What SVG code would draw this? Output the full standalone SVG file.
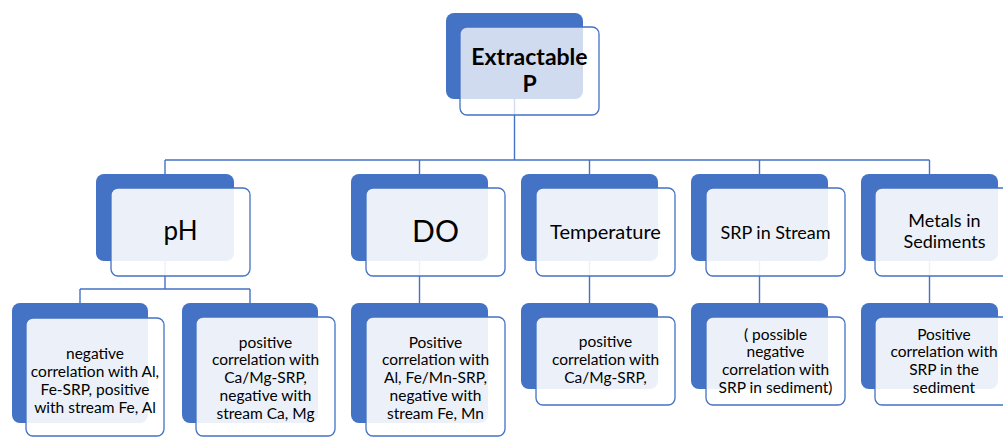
<svg xmlns="http://www.w3.org/2000/svg" width="1003" height="437" viewBox="0 0 1003 437">
<style>
.back{fill:#4472C4}
.front{fill:#ffffff;fill-opacity:0.9;stroke:#4472C4;stroke-width:1.3}
.front.top{fill-opacity:0.75}
.conn{fill:none;stroke:#4472C4;stroke-width:1.4}
text{font-family:Lato,"Liberation Sans",sans-serif;fill:#000;text-anchor:middle}
.t{font-size:15.5px}
.b{font-weight:bold;font-size:23px}
</style>
<rect width="1003" height="437" fill="#ffffff"/>
<g id="connectors">
<path class="conn" d="M514.5,99V160M165,160H929.5M165,160V174M419.5,160V174M589.5,160V174M759.5,160V174M929.5,160V174"/>
<path class="conn" d="M165,261V289M80,289H250M80,289V303M250,289V303"/>
<path class="conn" d="M419.5,261V303M589.5,261V303M759.5,261V303M929.5,261V303"/>
</g>
<g id="extractable-p">
<rect class="back" x="446" y="13" width="137" height="86" rx="8"/>
<rect class="front top" x="460" y="27" width="139" height="88" rx="7"/>
<text class="b" x="529.5" y="65">Extractable</text>
<text class="b" x="529.5" y="92">P</text>
</g>
<g id="ph">
<rect class="back" x="96" y="174" width="138" height="87" rx="8"/>
<rect class="front" x="111" y="188" width="139" height="88" rx="7"/>
<text x="180.5" y="240" font-size="26">pH</text>
</g>
<g id="do">
<rect class="back" x="351" y="174" width="137" height="87" rx="8"/>
<rect class="front" x="366" y="188" width="139" height="88" rx="7"/>
<text x="435.5" y="242" font-size="30">DO</text>
</g>
<g id="temperature">
<rect class="back" x="521" y="174" width="137" height="87" rx="8"/>
<rect class="front" x="536" y="188" width="139" height="88" rx="7"/>
<text x="605.5" y="239" font-size="20">Temperature</text>
</g>
<g id="srp-stream">
<rect class="back" x="691" y="174" width="137" height="87" rx="8"/>
<rect class="front" x="706" y="188" width="139" height="88" rx="7"/>
<text x="775.5" y="239" font-size="18">SRP in Stream</text>
</g>
<g id="metals">
<rect class="back" x="861" y="174" width="137" height="87" rx="8"/>
<rect class="front" x="875" y="188" width="139" height="88" rx="7"/>
<text x="944.5" y="226.5" font-size="18">Metals in</text>
<text x="944.5" y="248" font-size="18">Sediments</text>
</g>
<g id="ph-neg">
<rect class="back" x="12" y="303" width="136" height="120" rx="8"/>
<rect class="front" x="26" y="318" width="138" height="118" rx="7"/>
<text class="t" x="95" y="358.5">negative</text>
<text class="t" x="95" y="376.5">correlation with Al,</text>
<text class="t" x="95" y="394.5">Fe-SRP, positive</text>
<text class="t" x="95" y="412.5">with stream Fe, Al</text>
</g>
<g id="ph-pos">
<rect class="back" x="182" y="303" width="136" height="120" rx="8"/>
<rect class="front" x="196" y="317" width="139" height="119" rx="7"/>
<text class="t" x="265.5" y="347.5">positive</text>
<text class="t" x="265.5" y="365.3">correlation with</text>
<text class="t" x="265.5" y="383">Ca/Mg-SRP,</text>
<text class="t" x="265.5" y="401">negative with</text>
<text class="t" x="265.5" y="419">stream Ca, Mg</text>
</g>
<g id="do-child">
<rect class="back" x="351" y="303" width="137" height="120" rx="8"/>
<rect class="front" x="366" y="317" width="139" height="119" rx="7"/>
<text class="t" x="435.5" y="347.5">Positive</text>
<text class="t" x="435.5" y="365.3">correlation with</text>
<text class="t" x="435.5" y="383">Al, Fe/Mn-SRP,</text>
<text class="t" x="435.5" y="401">negative with</text>
<text class="t" x="435.5" y="419">stream Fe, Mn</text>
</g>
<g id="temp-child">
<rect class="back" x="521" y="303" width="137" height="86" rx="8"/>
<rect class="front" x="536" y="317" width="139" height="88" rx="7"/>
<text class="t" x="605.5" y="347">positive</text>
<text class="t" x="605.5" y="364.8">correlation with</text>
<text class="t" x="605.5" y="382.5">Ca/Mg-SRP,</text>
</g>
<g id="srp-child">
<rect class="back" x="691" y="303" width="137" height="86" rx="8"/>
<rect class="front" x="706" y="317" width="139" height="88" rx="7"/>
<text class="t" x="775.5" y="339.5">( possible</text>
<text class="t" x="775.5" y="357.2">negative</text>
<text class="t" x="775.5" y="375">correlation with</text>
<text class="t" x="775.5" y="392.7">SRP in sediment)</text>
</g>
<g id="metals-child">
<rect class="back" x="861" y="303" width="137" height="86" rx="8"/>
<rect class="front" x="875" y="317" width="139" height="88" rx="7"/>
<text class="t" x="944" y="339.5">Positive</text>
<text class="t" x="944" y="357.2">correlation with</text>
<text class="t" x="944" y="375">SRP in the</text>
<text class="t" x="944" y="392.7">sediment</text>
</g>
</svg>
